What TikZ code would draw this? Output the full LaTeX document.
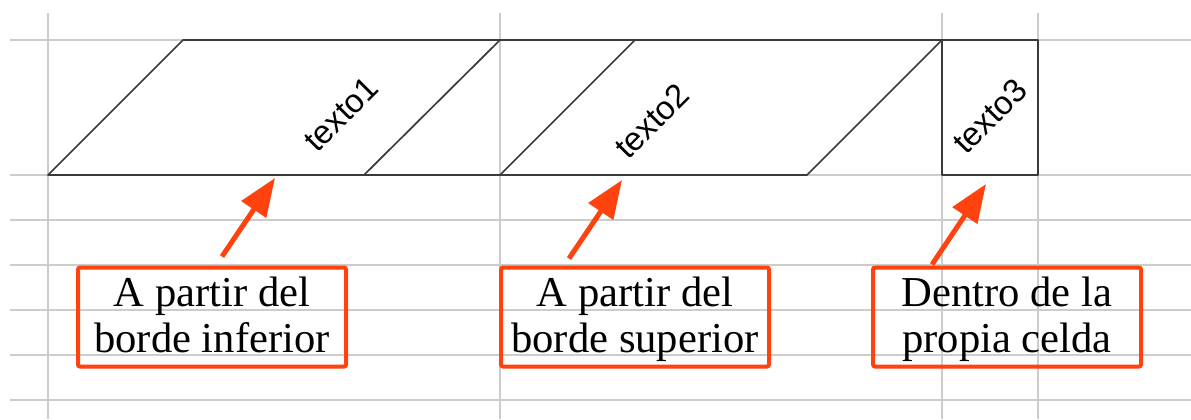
\documentclass[tikz,border=0pt]{standalone}
\usepackage{fontspec}
\setmainfont{Liberation Serif}
\setsansfont{Liberation Sans}
\usetikzlibrary{arrows.meta, positioning, calc}
\definecolor{callout}{HTML}{FF420E}
\definecolor{gridgray}{HTML}{CCCCCC}
\definecolor{cellline}{HTML}{3A3A3A}
\newcommand{\cstrut}{\rule[-5pt]{0pt}{22pt}}

\begin{document}
\begin{tikzpicture}[x=0.5pt, y=-0.5pt,
    gridline/.style={gridgray, line width=0.75pt},
    cell/.style={cellline, line width=0.85pt, line join=round},
    rtext/.style={rotate=45, font=\sffamily\fontsize{16.5}{19}\selectfont, inner sep=0pt},
    note/.style={rectangle, draw=callout, line width=2pt, rounded corners=1pt,
      minimum width=134pt, minimum height=49.5pt, inner sep=0pt,
      font=\fontsize{21.3}{23}\selectfont, align=center},
    arr/.style={-{Triangle[length=19pt, width=14.5pt]}, callout, line width=2.5pt}
  ]
  \useasboundingbox (0,0) rectangle (1191,419);
  % spreadsheet grid
  \foreach \y in {40,175,220,265,310,355,400}
    \draw[gridline] (10,\y) -- (1191,\y);
  \foreach \x in {48,500,942,1038}
    \draw[gridline] (\x,13) -- (\x,419);
  % cell outlines
  \draw[cell] (48,175) -- (183,40) -- (500,40) -- (364,175) -- cycle;
  \draw[cell] (500,175) -- (635,40) -- (942,40) -- (807,175) -- cycle;
  \draw[cell] (942,40) rectangle (1038,175);
  \draw[cell, line width=1.1pt] (364,175) -- (500,175) (500,40) -- (635,40);
  % rotated texts
  \node[rtext] (t1) at (341,114) {texto1};
  \node[rtext] (t2) at (652,121) {texto2};
  \node[rtext] (t3) at (990,116) {texto3};
  % callouts
  \node[note] (b1) at (212,317) {\cstrut A partir del\\\cstrut borde inferior};
  \node[note] (b2) at (635,317) {\cstrut A partir del\\\cstrut borde superior};
  \node[note] (b3) at (1007,317) {\cstrut Dentro de la\\\cstrut propia celda};
  \coordinate (p1) at (275,178);
  \coordinate (p2) at (622,180);
  \coordinate (p3) at (986,184);
  \draw[arr] ($(b1.north)+(10,-9)$) -- (p1);
  \draw[arr] ($(b2.north)+(-66,-7)$) -- (p2);
  \draw[arr] ($(b3.north)+(-75,-1)$) -- (p3);
\end{tikzpicture}
\end{document}
